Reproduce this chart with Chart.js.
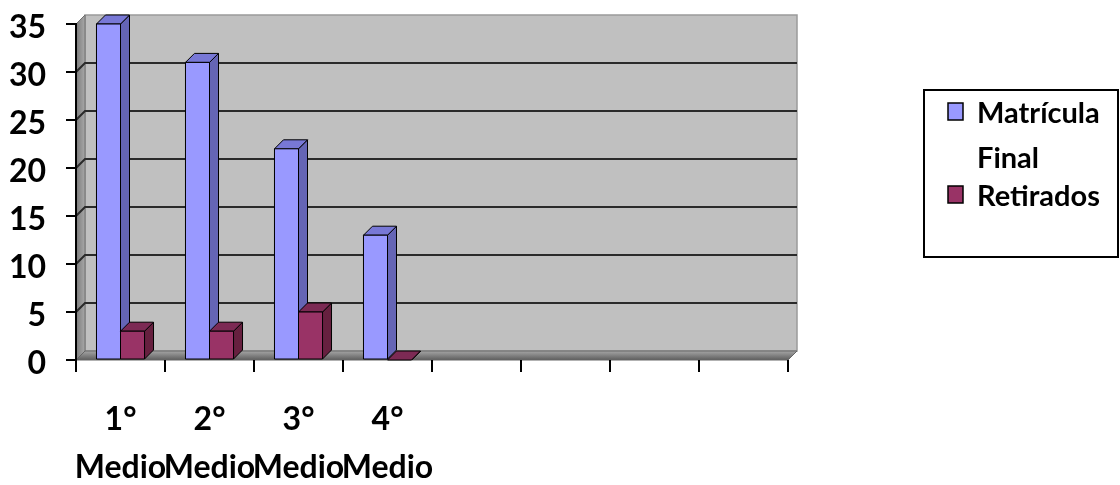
<!DOCTYPE html>
<html>
<head>
<meta charset="utf-8">
<script src="https://cdn.jsdelivr.net/npm/chart.js@4.4.1/dist/chart.umd.min.js"></script>
<style>
html,body{margin:0;padding:0;background:#fff;}
#wrap{position:relative;width:1120px;height:485px;}
</style>
</head>
<body>
<div id="wrap"><canvas id="c" width="1120" height="485"></canvas></div>
<script>
// ---- data ----
const categories = [['1°','Medio'],['2°','Medio'],['3°','Medio'],['4°','Medio'],'','','',''];
const seriesNames = ['Matrícula Final','Retirados'];
const matriculaFinal = [35,31,22,13,null,null,null,null];
const retirados = [3,3,5,0,null,null,null,null];
const yMin = 0, yMax = 35, yStep = 5;

// ---- styles ----
const FONT = 'Lato';
const frontColors = ['#9999FF','#993366'];
const sideColors  = ['#6565B5','#66203F'];
const topColors   = ['#7878D6','#7C2A54'];
const DEPTH = {x: 9, y: 9};

function poly(ctx, pts, fill, stroke, lw){
  ctx.beginPath();
  ctx.moveTo(pts[0][0], pts[0][1]);
  for (let i=1;i<pts.length;i++) ctx.lineTo(pts[i][0], pts[i][1]);
  ctx.closePath();
  if (fill){ ctx.fillStyle = fill; ctx.fill(); }
  if (stroke){ ctx.strokeStyle = stroke; ctx.lineWidth = lw||1; ctx.stroke(); }
}

const wallsPlugin = {
  id: 'walls',
  beforeDraw(chart){
    const {ctx, chartArea:a, scales:{y}} = chart;
    const dx = DEPTH.x, dy = DEPTH.y;
    ctx.save();
    poly(ctx, [[a.left+dx,a.top-dy],[a.right+dx,a.top-dy],[a.right+dx,a.bottom-dy],[a.left+dx,a.bottom-dy]], '#C0C0C0', '#9a9a9a', 1.5);
    const g = ctx.createLinearGradient(a.left,0,a.left+dx,0);
    g.addColorStop(0,'#7a7a7a'); g.addColorStop(1,'#a8a8a8');
    poly(ctx, [[a.left,a.top],[a.left+dx,a.top-dy],[a.left+dx,a.bottom-dy],[a.left,a.bottom]], g, '#6f6f6f', 1);
    const fg = ctx.createLinearGradient(0,a.bottom-dy,0,a.bottom);
    fg.addColorStop(0,'#a5a5a5'); fg.addColorStop(1,'#5e5e5e');
    poly(ctx, [[a.left,a.bottom],[a.right,a.bottom],[a.right+dx,a.bottom-dy],[a.left+dx,a.bottom-dy]], fg, '#666', 1);
    for (let v = yMin + yStep; v < yMax; v += yStep){
      const py = y.getPixelForValue(v);
      ctx.beginPath();
      ctx.moveTo(a.left, py);
      ctx.lineTo(a.left+dx, py-dy);
      ctx.lineTo(a.right+dx, py-dy);
      ctx.strokeStyle = '#2a2a2a';
      ctx.lineWidth = 2;
      ctx.stroke();
    }
    ctx.restore();
  },
  afterDatasetsDraw(chart){
    const {ctx} = chart;
    const dx = DEPTH.x, dy = DEPTH.y;
    const n = chart.data.labels.length;
    ctx.save();
    for (let i=0;i<n;i++){
      chart.data.datasets.forEach((ds, di)=>{
        const meta = chart.getDatasetMeta(di);
        const el = meta.data[i];
        if (!el || ds.data[i] === null || ds.data[i] === undefined) return;
        const p = el.getProps(['x','y','base','width'], true);
        const l = p.x - p.width/2, r = p.x + p.width/2, t = Math.min(p.y,p.base), b = Math.max(p.y,p.base);
        poly(ctx, [[r,t],[r+dx,t-dy],[r+dx,b-dy],[r,b]], sideColors[di], '#000', 1);
        poly(ctx, [[l,t],[l+dx,t-dy],[r+dx,t-dy],[r,t]], topColors[di], '#000', 1);
        if (b - t > 0) poly(ctx, [[l,t],[r,t],[r,b],[l,b]], frontColors[di], '#000', 1);
      });
    }
    ctx.restore();
  },
  afterDraw(chart){
    const {ctx} = chart;
    ctx.save();
    const box = {l: 924, t: 90, r: 1118, b: 257};
    ctx.strokeStyle = '#000'; ctx.lineWidth = 2;
    ctx.strokeRect(box.l, box.t, box.r-box.l, box.b-box.t);
    ctx.font = 'bold 29px ' + FONT;
    ctx.fillStyle = '#000';
    ctx.textBaseline = 'alphabetic';
    const textX = 977, maxW = 135;
    const baselines = [[123,168],[206]];
    chart.data.datasets.forEach((ds, di)=>{
      const words = ds.label.split(' ');
      const lines = []; let cur = '';
      words.forEach(w=>{
        const test = cur ? cur + ' ' + w : w;
        if (ctx.measureText(test).width > maxW && cur){ lines.push(cur); cur = w; } else cur = test;
      });
      if (cur) lines.push(cur);
      const bl = baselines[di];
      ctx.fillStyle = frontColors[di];
      ctx.fillRect(948, bl[0]-20, 15, 17);
      ctx.strokeStyle = '#000'; ctx.lineWidth = 1.5;
      ctx.strokeRect(948, bl[0]-20, 15, 17);
      ctx.fillStyle = '#000';
      lines.forEach((ln, k)=>{
        const yy = bl[k] !== undefined ? bl[k] : bl[0] + 45*k;
        ctx.fillText(ln, textX, yy);
      });
    });
    ctx.restore();
  }
};

const chart = new Chart(document.getElementById('c'), {
  type: 'bar',
  data: {
    labels: categories,
    datasets: [
      {label: seriesNames[0], data: matriculaFinal, backgroundColor: frontColors[0], borderColor: '#000', borderWidth: 1},
      {label: seriesNames[1], data: retirados, backgroundColor: frontColors[1], borderColor: '#000', borderWidth: 1}
    ]
  },
  options: {
    responsive: false,
    animation: false,
    events: [],
    layout: {padding: {top: 24, right: 332, left: 0, bottom: 0}},
    datasets: {bar: {categoryPercentage: 0.54, barPercentage: 1.0}},
    plugins: {legend: {display: false}, tooltip: {enabled: false}},
    scales: {
      x: {
        z: 1,
        grid: {display: true, drawOnChartArea: false, drawTicks: true, tickLength: 12, color: '#000', lineWidth: 2, offset: true},
        border: {display: false},
        ticks: {color: '#000', font: {family: FONT, size: 32, weight: 'bold', lineHeight: 1.5}, padding: 24, maxRotation: 0, autoSkip: false},
        afterFit(s){ s.height = 125; s.paddingLeft = 0; s.paddingRight = 0; }
      },
      y: {
        z: 1,
        min: yMin, max: yMax,
        grid: {display: true, drawOnChartArea: false, drawTicks: true, tickLength: 10, color: '#000', lineWidth: 2},
        border: {display: true, color: '#000', width: 2},
        ticks: {stepSize: yStep, color: '#000', font: {family: FONT, size: 32, weight: 'bold'}, padding: 20, labelOffset: 4},
        afterFit(s){ s.width = 76; s.paddingTop = 0; s.paddingBottom = 0; }
      }
    }
  },
  plugins: [wallsPlugin]
});
</script>
</body>
</html>
